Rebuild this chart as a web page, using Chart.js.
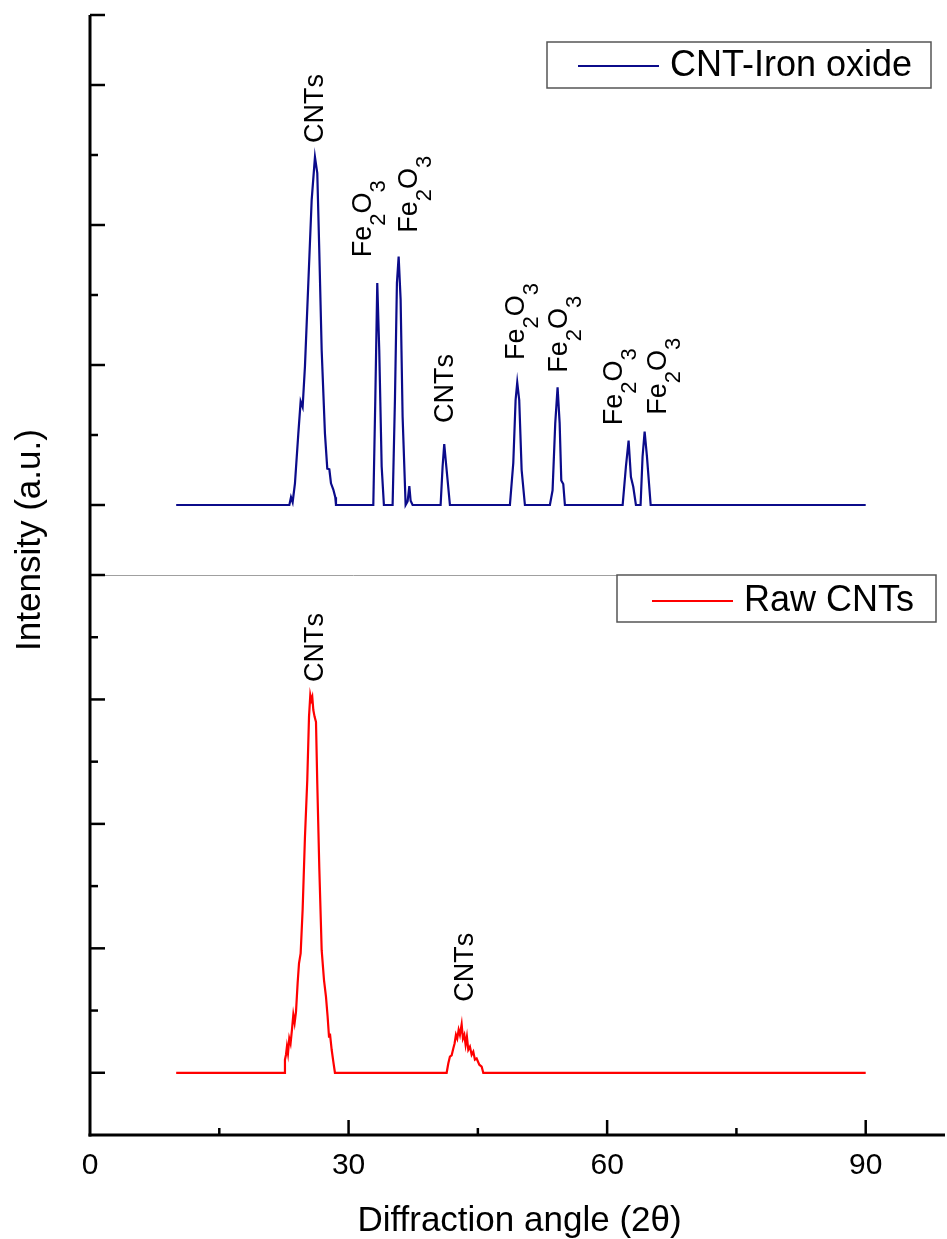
<!DOCTYPE html>
<html><head><meta charset="utf-8">
<script src="https://cdn.jsdelivr.net/npm/chart.js@4.4.1/dist/chart.umd.min.js"></script>
<style>html,body{margin:0;padding:0;background:#fff;}canvas{display:block;}</style>
</head><body>
<canvas id="c" width="947" height="1239"></canvas>
<script>
// ---- data ----
const cntIronX = [10, 23.13, 23.32, 23.51, 23.78, 24.17, 24.44, 24.67, 24.94, 25.33, 25.72, 26.1, 26.37, 26.6, 26.88, 27.26, 27.53, 27.77, 27.96, 28.23, 28.46, 28.54,
  32.87, 33.1, 33.33, 33.56, 33.84, 34.1,
  35.11, 35.38, 35.61, 35.81, 36.04, 36.27, 36.62, 36.85, 37.05, 37.2, 37.43,
  40.68, 40.91, 41.1, 41.34, 41.76,
  48.72, 49.11, 49.38, 49.57, 49.8, 50.08, 50.46,
  53.36, 53.67, 53.98, 54.25, 54.49, 54.68, 54.91, 55.1,
  61.8, 62.18, 62.49, 62.76, 63.03, 63.34,
  63.88, 64.11, 64.35, 64.62, 65.05, 90];
const cntIronY = [1, 1, 1.11, 1.04, 1.31, 2.02, 2.48, 2.40, 2.98, 4.17, 5.36, 5.97, 5.74, 4.64, 3.21, 2.02, 1.52, 1.51, 1.31, 1.22, 1.11, 1,
  1, 2.5, 4.17, 3.21, 1.55, 1,
  1, 2.5, 4.17, 4.55, 3.93, 2.26, 1, 1.05, 1.27, 1.06, 1,
  1, 1.55, 1.87, 1.55, 1,
  1, 1.6, 2.5, 2.75, 2.5, 1.5, 1,
  1, 1.21, 2.17, 2.68, 2.17, 1.35, 1.3, 1,
  1, 1.55, 1.92, 1.4, 1.26, 1,
  1, 1.69, 2.05, 1.69, 1, 1];
const rawX = [10, 22.51, 22.62, 22.74, 22.85, 22.97, 23.12, 23.27, 23.43, 23.59, 23.74, 23.9, 24.09, 24.25, 24.44, 24.67, 24.94, 25.21, 25.41, 25.56,
  25.68, 25.79, 25.91, 26.06, 26.22, 26.37, 26.6, 26.88, 27.15, 27.38, 27.57, 27.73, 27.84, 28.04, 28.23, 28.42,
  41.38, 41.57, 41.76, 41.96, 42.15, 42.3, 42.46, 42.61, 42.77, 42.92, 43.12, 43.27, 43.43, 43.58, 43.73, 43.89, 44.08, 44.28, 44.47, 44.66,
  44.86, 45.17, 45.44, 45.63, 90];
const rawY = [1, 1, 1.21, 1.29, 1.42, 1.31, 1.55, 1.47, 1.69, 1.93, 1.8, 1.98, 2.44, 2.76, 2.92, 3.62, 4.79, 5.71, 6.72, 7.07,
  6.99, 7.04, 6.83, 6.72, 6.64, 5.65, 4.31, 2.97, 2.49, 2.22, 1.9, 1.58, 1.63, 1.37, 1.18, 1,
  1, 1.15, 1.26, 1.28, 1.39, 1.47, 1.61, 1.55, 1.69, 1.61, 1.78, 1.55, 1.61, 1.45, 1.58, 1.37, 1.42, 1.29, 1.34, 1.21,
  1.23, 1.13, 1.1, 1, 1];

const seriesLabels = ['CNT-Iron oxide', 'Raw CNTs'];
const seriesColors = ['#0b0b8a', '#ff0000'];

const xTickLabels = [0, 30, 60, 90];
const xMajorTicks = [30, 60, 90];
const xMinorTicks = [15, 45, 75];
const topTicks = [1, 2, 3, 4, 5, 6, 7, 8];
const topLongTicks = [1, 3, 5, 7, 8];
const botTicks = [1, 2, 3, 4, 5, 6, 7, 8, 9];
const botLongTicks = [1, 3, 5, 7, 9];

const annTopX = [25.9, 31.5, 36.8, 40.95, 49.2, 54.2, 60.6, 65.7];
const annTopY = [6.17, 4.54, 4.89, 2.17, 3.07, 2.89, 2.14, 2.29];
const annTopText = ['CNTs', 'Fe_2O_3', 'Fe_2O_3', 'CNTs', 'Fe_2O_3', 'Fe_2O_3', 'Fe_2O_3', 'Fe_2O_3'];
const annBotX = [25.9, 43.3];
const annBotY = [7.28, 2.14];
const annBotText = ['CNTs', 'CNTs'];

const xTitle = 'Diffraction angle (2\u03B8)';
const yTitle = 'Intensity (a.u.)';

const FONT = '"Liberation Sans", Arial, sans-serif';

function pts(xs, ys) { return xs.map((x, i) => ({ x: x, y: ys[i] })); }

function drawRotated(ctx, text, px, py) {
  const fs = 27, sfs = 22, shift = 14;
  ctx.save();
  ctx.translate(px, py);
  ctx.rotate(-Math.PI / 2);
  ctx.fillStyle = '#000';
  ctx.textBaseline = 'alphabetic';
  ctx.textAlign = 'left';
  const base = 0.36 * fs;
  let u = 0;
  for (let i = 0; i < text.length; i++) {
    let ch = text[i], sub = false;
    if (ch === '_') { sub = true; i++; ch = text[i]; }
    ctx.font = (sub ? sfs : fs) + 'px ' + FONT;
    ctx.fillText(ch, u, base + (sub ? shift : 0));
    u += ctx.measureText(ch).width;
  }
  ctx.restore();
}

function drawLegend(ctx, box, lineX0, lineX1, lineY, textX, label, color) {
  ctx.save();
  ctx.fillStyle = '#fff';
  ctx.fillRect(box[0], box[1], box[2] - box[0], box[3] - box[1]);
  ctx.strokeStyle = '#555';
  ctx.lineWidth = 1.5;
  ctx.strokeRect(box[0], box[1], box[2] - box[0], box[3] - box[1]);
  ctx.strokeStyle = color;
  ctx.lineWidth = 2;
  ctx.beginPath(); ctx.moveTo(lineX0, lineY); ctx.lineTo(lineX1, lineY); ctx.stroke();
  ctx.fillStyle = '#000';
  ctx.font = '36px ' + FONT;
  ctx.textBaseline = 'middle';
  ctx.textAlign = 'left';
  ctx.fillText(label, textX, lineY);
  ctx.restore();
}

const decor = {
  id: 'decor',
  beforeDraw(chart) {
    const ctx = chart.ctx;
    ctx.save(); ctx.fillStyle = '#fff'; ctx.fillRect(0, 0, chart.width, chart.height); ctx.restore();
  },
  afterDraw(chart) {
    const ctx = chart.ctx, ca = chart.chartArea;
    const xs = chart.scales.x, yt = chart.scales.yTop, yb = chart.scales.yBot;
    ctx.save();
    // separator between panels
    const sepY = Math.round(yt.getPixelForValue(0)) + 0.5;
    ctx.strokeStyle = '#a0a0a0'; ctx.lineWidth = 1;
    ctx.beginPath(); ctx.moveTo(ca.left, sepY); ctx.lineTo(617, sepY); ctx.stroke();

    // axes
    ctx.strokeStyle = '#000'; ctx.lineWidth = 3; ctx.lineCap = 'butt';
    ctx.beginPath(); ctx.moveTo(ca.left, ca.top); ctx.lineTo(ca.left, ca.bottom + 1.5); ctx.stroke();
    ctx.beginPath(); ctx.moveTo(ca.left - 1.5, ca.bottom); ctx.lineTo(ca.right, ca.bottom); ctx.stroke();

    // y ticks (inside)
    ctx.lineWidth = 2.5;
    const yTickDraw = (scale, ticks, longs) => {
      ticks.forEach(v => {
        const py = scale.getPixelForValue(v);
        const len = longs.includes(v) ? 15 : 8;
        ctx.beginPath(); ctx.moveTo(ca.left, py); ctx.lineTo(ca.left + len, py); ctx.stroke();
      });
    };
    yTickDraw(yt, topTicks, topLongTicks);
    yTickDraw(yb, botTicks, botLongTicks);

    // x ticks (inside)
    xMajorTicks.forEach(v => { const px = xs.getPixelForValue(v); ctx.beginPath(); ctx.moveTo(px, ca.bottom); ctx.lineTo(px, ca.bottom - 15); ctx.stroke(); });
    xMinorTicks.forEach(v => { const px = xs.getPixelForValue(v); ctx.beginPath(); ctx.moveTo(px, ca.bottom); ctx.lineTo(px, ca.bottom - 7); ctx.stroke(); });

    // x tick labels
    ctx.fillStyle = '#000';
    ctx.font = '30px ' + FONT;
    ctx.textAlign = 'center'; ctx.textBaseline = 'alphabetic';
    xTickLabels.forEach(v => ctx.fillText(String(v), xs.getPixelForValue(v), ca.bottom + 39));

    // axis titles
    ctx.font = '35px ' + FONT;
    ctx.fillText(xTitle, (ca.left + ca.right) / 2 + 2, ca.bottom + 96);
    ctx.save();
    ctx.translate(40, 540);
    ctx.rotate(-Math.PI / 2);
    ctx.font = '35px ' + FONT;
    ctx.textAlign = 'center'; ctx.textBaseline = 'alphabetic';
    ctx.fillText(yTitle, 0, 0);
    ctx.restore();

    // peak annotations
    annTopText.forEach((t, i) => drawRotated(ctx, t, xs.getPixelForValue(annTopX[i]), yt.getPixelForValue(annTopY[i])));
    annBotText.forEach((t, i) => drawRotated(ctx, t, xs.getPixelForValue(annBotX[i]), yb.getPixelForValue(annBotY[i])));

    // legends
    const ds = chart.data.datasets;
    drawLegend(ctx, [547, 42, 931, 88], 578, 659, 66, 670, ds[0].label, ds[0].borderColor);
    drawLegend(ctx, [617, 575, 936, 622], 652, 733, 601, 744, ds[1].label, ds[1].borderColor);
    ctx.restore();
  }
};

const hiddenAxis = {
  ticks: { display: false },
  grid: { display: false },
  border: { display: false }
};

new Chart(document.getElementById('c'), {
  type: 'scatter',
  data: {
    datasets: [
      { label: seriesLabels[0], data: pts(cntIronX, cntIronY), yAxisID: 'yTop', showLine: true,
        borderColor: seriesColors[0], borderWidth: 2.2, pointRadius: 0, tension: 0, fill: false },
      { label: seriesLabels[1], data: pts(rawX, rawY), yAxisID: 'yBot', showLine: true,
        borderColor: seriesColors[1], borderWidth: 2.2, pointRadius: 0, tension: 0, fill: false }
    ]
  },
  options: {
    responsive: false,
    animation: false,
    devicePixelRatio: 1,
    layout: { padding: { left: 90, right: 2, top: 15, bottom: 104 } },
    plugins: { legend: { display: false }, tooltip: { enabled: false } },
    scales: {
      x: Object.assign({ type: 'linear', min: 0, max: 99.2, afterFit: s => { s.height = 0; } }, hiddenAxis),
      yBot: Object.assign({ type: 'linear', position: 'left', stack: 'panels', stackWeight: 1, min: 0, max: 9,
        afterFit: s => { s.width = 0; } }, hiddenAxis),
      yTop: Object.assign({ type: 'linear', position: 'left', stack: 'panels', stackWeight: 1, min: 0, max: 8,
        afterFit: s => { s.width = 0; } }, hiddenAxis)
    }
  },
  plugins: [decor]
});
</script>
</body></html>
